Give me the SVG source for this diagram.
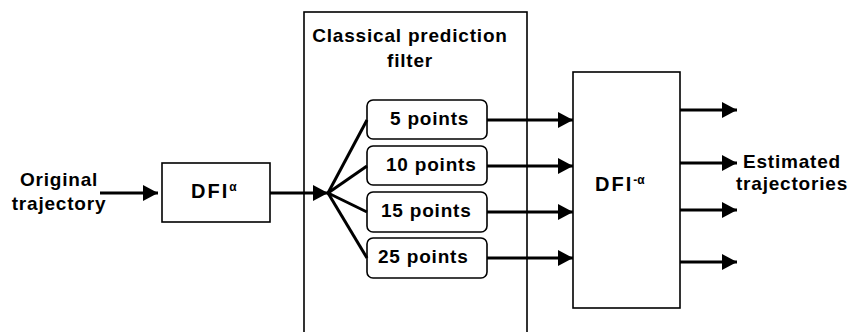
<svg xmlns="http://www.w3.org/2000/svg" width="851" height="332" viewBox="0 0 851 332">
<style>
  .box { fill: #fff; stroke: #000; stroke-width: 1.6; }
  .t { font-family: "Liberation Sans", Arial, sans-serif; font-weight: bold; font-size: 19px; letter-spacing: 0.8px; fill: #000; }
  .dfi { font-size: 20px; letter-spacing: 2px; }
  .sup { font-size: 12px; letter-spacing: 0; }
  .ln { stroke: #000; stroke-width: 3; fill: none; }
</style>
<defs>
  <marker id="ah" markerUnits="userSpaceOnUse" markerWidth="16" markerHeight="18" refX="15" refY="8" orient="auto">
    <path d="M0,0 L15,8 L0,16 Z" fill="#000"/>
  </marker>
</defs>
<rect width="851" height="332" fill="#fff"/>

<g id="classical">
  <rect class="box" x="304" y="12" width="223" height="330"/>
  <text class="t" x="410" y="42" text-anchor="middle">Classical prediction</text>
  <text class="t" x="410" y="67" text-anchor="middle">filter</text>
</g>

<g id="input-label">
  <text class="t" x="59" y="186" text-anchor="middle">Original</text>
  <text class="t" x="59" y="210" text-anchor="middle">trajectory</text>
</g>

<g id="dfi">
  <rect class="box" x="162" y="163" width="108" height="59"/>
  <text class="t dfi" x="191" y="198">DFI<tspan class="sup" dy="-7">α</tspan></text>
</g>

<g id="p5">
  <rect class="box" x="367" y="100" width="120" height="39" rx="6"/>
  <text class="t" x="390" y="125">5 points</text>
</g>
<g id="p10">
  <rect class="box" x="367" y="146" width="120" height="39" rx="6"/>
  <text class="t" x="386" y="171">10 points</text>
</g>
<g id="p15">
  <rect class="box" x="367" y="192" width="120" height="40" rx="6"/>
  <text class="t" x="381" y="217">15 points</text>
</g>
<g id="p25">
  <rect class="box" x="367" y="238" width="120" height="40" rx="6"/>
  <text class="t" x="378" y="263">25 points</text>
</g>

<g id="dfi-inv">
  <rect class="box" x="573" y="72" width="107" height="236"/>
  <text class="t dfi" x="595" y="191">DFI<tspan class="sup" dy="-7">-α</tspan></text>
</g>

<g id="output-label">
  <text class="t" x="792" y="168" text-anchor="middle">Estimated</text>
  <text class="t" x="792" y="190" text-anchor="middle">trajectories</text>
</g>

<g id="connectors">
  <line class="ln" x1="100" y1="193" x2="158" y2="193" marker-end="url(#ah)"/>
  <line class="ln" x1="270" y1="193" x2="328" y2="193" marker-end="url(#ah)"/>
  <line class="ln" x1="328" y1="193" x2="367" y2="120"/>
  <line class="ln" x1="328" y1="193" x2="367" y2="166"/>
  <line class="ln" x1="328" y1="193" x2="367" y2="212"/>
  <line class="ln" x1="328" y1="193" x2="367" y2="258"/>
  <line class="ln" x1="487" y1="120" x2="573" y2="120" marker-end="url(#ah)"/>
  <line class="ln" x1="487" y1="166" x2="573" y2="166" marker-end="url(#ah)"/>
  <line class="ln" x1="487" y1="212" x2="573" y2="212" marker-end="url(#ah)"/>
  <line class="ln" x1="487" y1="258" x2="573" y2="258" marker-end="url(#ah)"/>
  <line class="ln" x1="680" y1="110" x2="737" y2="110" marker-end="url(#ah)"/>
  <line class="ln" x1="680" y1="163" x2="737" y2="163" marker-end="url(#ah)"/>
  <line class="ln" x1="680" y1="210" x2="737" y2="210" marker-end="url(#ah)"/>
  <line class="ln" x1="680" y1="262" x2="737" y2="262" marker-end="url(#ah)"/>
</g>
</svg>
